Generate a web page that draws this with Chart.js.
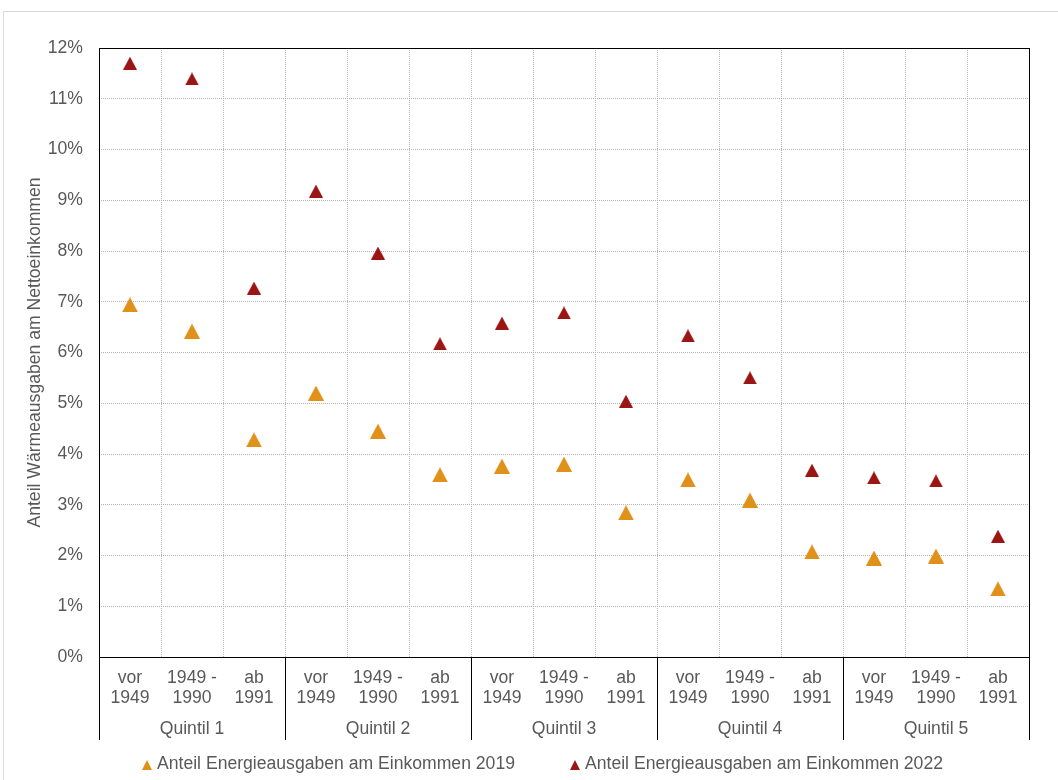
<!doctype html>
<html>
<head>
<meta charset="utf-8">
<script src="https://cdn.jsdelivr.net/npm/chart.js@4.4.1/dist/chart.umd.min.js"></script>
<style>
  html, body { margin: 0; padding: 0; background: #fff; }
</style>
</head>
<body>
<canvas id="myChart" width="1058" height="780"></canvas>
<script>
// data (percent of net income)
var quintiles = ['Quintil 1', 'Quintil 2', 'Quintil 3', 'Quintil 4', 'Quintil 5'];
var periods = [['vor', '1949'], ['1949 -', '1990'], ['ab', '1991']];
var share2019 = [6.94, 6.42, 4.28, 5.20, 4.45, 3.59, 3.76, 3.80, 2.84, 3.49, 3.09, 2.07, 1.95, 1.99, 1.34];
var share2022 = [11.70, 11.39, 7.27, 9.18, 7.96, 6.17, 6.58, 6.78, 5.04, 6.33, 5.50, 3.68, 3.53, 3.47, 2.38];
var seriesNames = ['Anteil Energieausgaben am Einkommen 2019', 'Anteil Energieausgaben am Einkommen 2022'];

var labels = [];
quintiles.forEach(function () {
  periods.forEach(function (p) { labels.push(p); });
});

var textColor = '#595959';
var fontFamily = '"Liberation Sans", Arial, sans-serif';
var fontSize = 17.6;
var orange = '#E0911A';
var darkRed = '#9B1515';

function triangle(w, h, color) {
  var c = document.createElement('canvas');
  c.width = w; c.height = h;
  var g = c.getContext('2d');
  g.fillStyle = color;
  g.beginPath();
  g.moveTo(w / 2, 0);
  g.lineTo(w, h);
  g.lineTo(0, h);
  g.closePath();
  g.fill();
  return c;
}

var frame = {
  id: 'frame',
  beforeDraw: function (chart) {
    var ctx = chart.ctx;
    ctx.save();
    ctx.strokeStyle = '#d9d9d9';
    ctx.lineWidth = 1;
    ctx.strokeRect(3.5, 11.5, 1200, 1000);
    ctx.restore();
  },
  afterDraw: function (chart) {
    var ctx = chart.ctx, a = chart.chartArea, xs = chart.scales.x;
    var bottomLine = 740;
    ctx.save();
    ctx.strokeStyle = '#000';
    ctx.lineWidth = 1;
    ctx.strokeRect(Math.round(a.left) + 0.5, Math.round(a.top) + 0.5,
      Math.round(a.right - a.left), Math.round(a.bottom - a.top));
    var groupW = (a.right - a.left) / quintiles.length;
    for (var k = 0; k <= quintiles.length; k++) {
      var x = Math.round(a.left + k * groupW) + 0.5;
      ctx.beginPath();
      ctx.moveTo(x, a.bottom);
      ctx.lineTo(x, bottomLine);
      ctx.stroke();
    }
    ctx.fillStyle = textColor;
    ctx.font = fontSize + 'px ' + fontFamily;
    ctx.textAlign = 'center';
    ctx.textBaseline = 'middle';
    quintiles.forEach(function (q, k) {
      ctx.fillText(q, xs.getPixelForValue(k * periods.length + 1), 729);
    });

    // legend
    var items = [
      { x: 142, color: orange, text: seriesNames[0] },
      { x: 570, color: darkRed, text: seriesNames[1] }
    ];
    ctx.textAlign = 'left';
    items.forEach(function (it) {
      ctx.drawImage(triangle(10, 10, it.color), it.x, 760);
      ctx.fillStyle = textColor;
      ctx.fillText(it.text, it.x + 15, 764);
    });
    ctx.restore();
  }
};

var gridStyle = {
  color: '#b4b4b4',
  lineWidth: 1,
  drawTicks: false
};

new Chart(document.getElementById('myChart'), {
  type: 'line',
  data: {
    labels: labels,
    datasets: [
      {
        label: seriesNames[0],
        data: share2019,
        showLine: false,
        pointStyle: triangle(16, 15, orange),
        pointRadius: 8,
        backgroundColor: orange,
        borderColor: orange
      },
      {
        label: seriesNames[1],
        data: share2022,
        showLine: false,
        pointStyle: triangle(14, 13, darkRed),
        pointRadius: 7,
        backgroundColor: darkRed,
        borderColor: darkRed
      }
    ]
  },
  options: {
    responsive: false,
    animation: false,
    layout: { padding: { left: 0, top: 48, right: 29, bottom: 40 } },
    plugins: {
      legend: { display: false },
      tooltip: { enabled: false }
    },
    scales: {
      x: {
        type: 'category',
        offset: true,
        grid: Object.assign({ offset: true }, gridStyle),
        border: { display: false, dash: [1, 1] },
        ticks: {
          color: textColor,
          font: { family: fontFamily, size: fontSize, lineHeight: 1.14 },
          padding: 11,
          maxRotation: 0,
          autoSkip: false
        },
        afterFit: function (scale) { scale.height = 83; }
      },
      y: {
        min: 0,
        max: 12,
        grid: gridStyle,
        border: { display: false, dash: [1, 1] },
        ticks: {
          stepSize: 1,
          color: textColor,
          font: { family: fontFamily, size: fontSize },
          padding: 16,
          callback: function (v) { return v + '%'; }
        },
        title: {
          display: true,
          text: 'Anteil Wärmeausgaben am Nettoeinkommen',
          color: textColor,
          font: { family: fontFamily, size: fontSize },
          padding: { top: 25, bottom: 0 }
        },
        afterFit: function (scale) { scale.width = 99; }
      }
    }
  },
  plugins: [frame]
});
</script>
</body>
</html>
